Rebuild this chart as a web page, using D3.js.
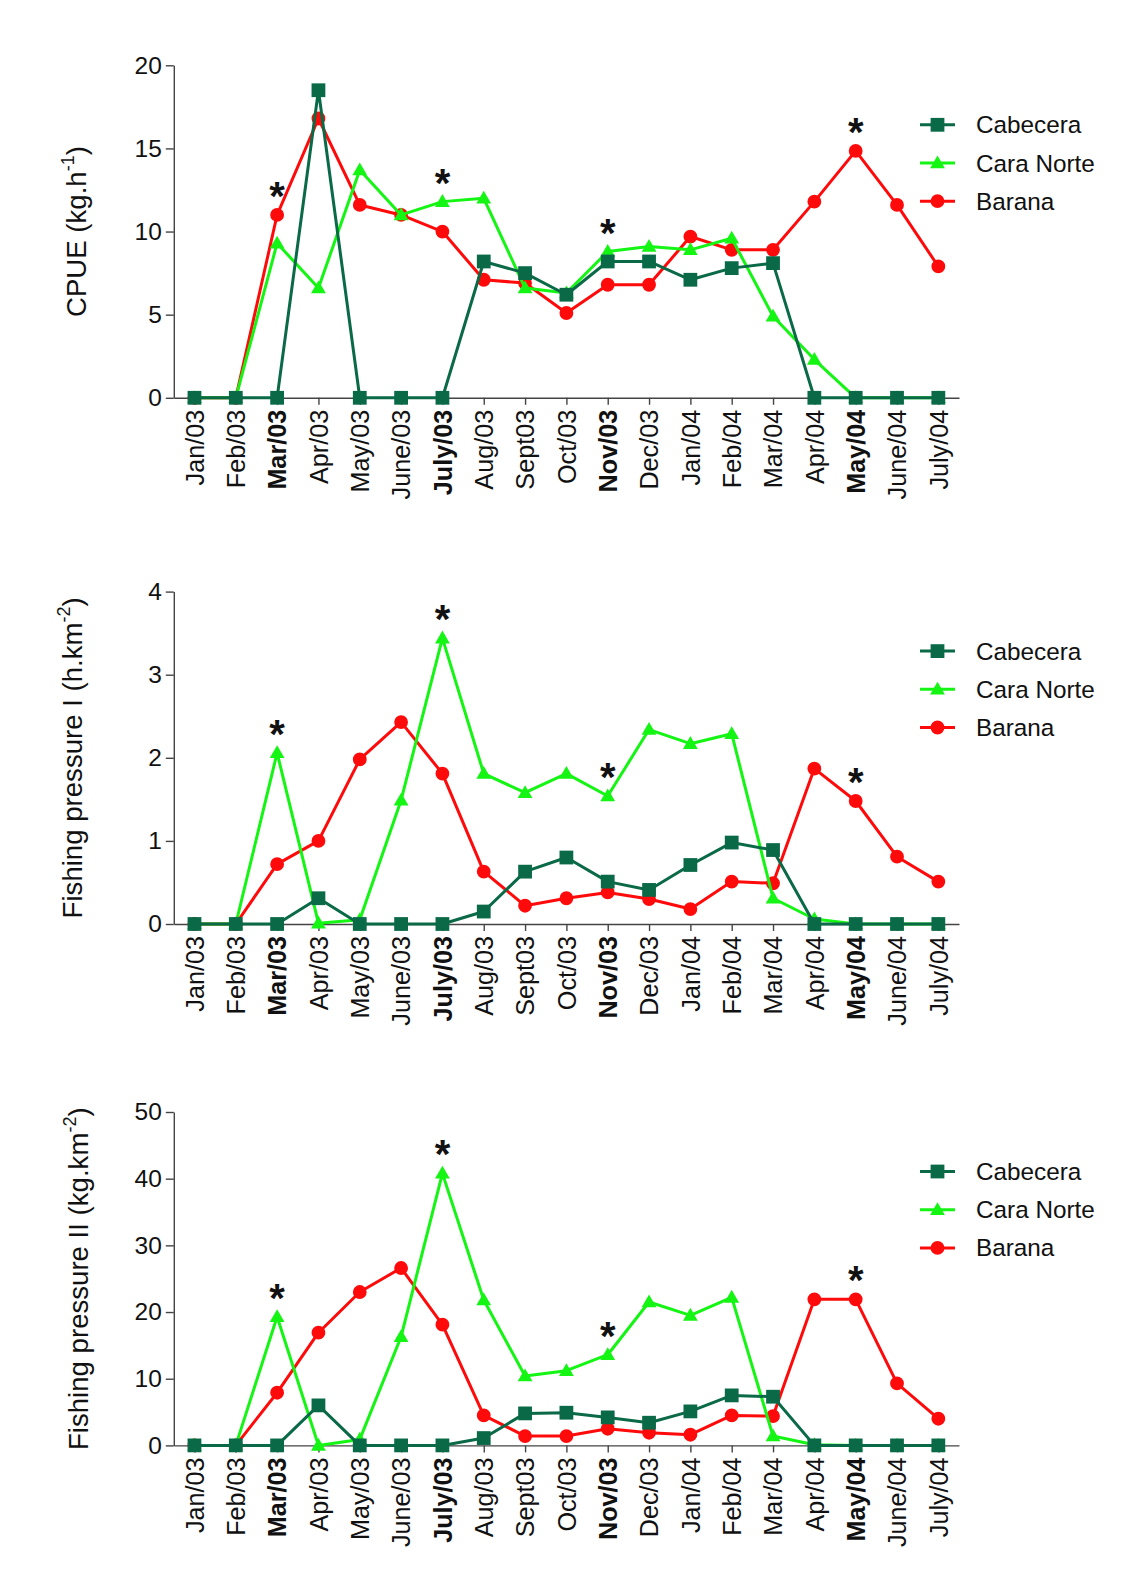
<!DOCTYPE html>
<html>
<head>
<meta charset="utf-8">
<script src="https://cdn.jsdelivr.net/npm/d3@7"></script>
<style>
  html, body { margin: 0; padding: 0; background: #ffffff; }
  svg { display: block; font-family: "Liberation Sans", Arial, sans-serif; }
</style>
</head>
<body>
<svg id="chart" width="1130" height="1575"></svg>
<script>
// ---------------- DATA ----------------
const months = ["Jan/03","Feb/03","Mar/03","Apr/03","May/03","June/03","July/03","Aug/03","Sept03","Oct/03",
                "Nov/03","Dec/03","Jan/04","Feb/04","Mar/04","Apr/04","May/04","June/04","July/04"];
const boldMonths = ["Mar/03","July/03","Nov/03","May/04"];
const starMonths = ["Mar/03","July/03","Nov/03","May/04"];
const seriesNames = ["Cabecera","Cara Norte","Barana"];

// Panel 1: CPUE (kg.h-1)
const cpueCabecera  = [0,0,0,18.5,0,0,0,8.2,7.5,6.2,8.2,8.2,7.1,7.8,8.1,0,0,0,0];
const cpueCaraNorte = [0,0,9.3,6.6,13.7,11.0,11.8,12.0,6.6,6.3,8.8,9.1,8.9,9.6,4.9,2.3,0,0,0];
const cpueBarana    = [0,0,11.0,16.8,11.6,11.0,10.0,7.1,6.9,5.1,6.8,6.8,9.7,8.9,8.9,11.8,14.85,11.6,7.9];
const cpueTicks     = [0,5,10,15,20];

// Panel 2: Fishing pressure I (h.km-2)
const fp1Cabecera  = [0,0,0,0.31,0,0,0,0.15,0.63,0.80,0.51,0.41,0.71,0.98,0.89,0,0,0,0];
const fp1CaraNorte = [0,0,2.06,0.01,0.05,1.49,3.44,1.81,1.58,1.81,1.54,2.34,2.17,2.29,0.31,0.06,0,0,0];
const fp1Barana    = [0,0,0.72,1.00,1.98,2.43,1.81,0.63,0.22,0.31,0.38,0.30,0.18,0.51,0.49,1.87,1.48,0.81,0.51];
const fp1Ticks     = [0,1,2,3,4];

// Panel 3: Fishing pressure II (kg.km-2)
const fp2Cabecera  = [0,0,0,6.0,0,0,0,1.1,4.8,4.9,4.2,3.4,5.1,7.5,7.3,0,0,0,0];
const fp2CaraNorte = [0,0,19.3,0,0.9,16.3,40.8,21.8,10.4,11.2,13.6,21.5,19.5,22.2,1.4,0.1,0,0,0];
const fp2Barana    = [0,0,7.9,16.9,23.0,26.6,18.1,4.5,1.4,1.4,2.5,1.9,1.6,4.5,4.4,21.9,21.9,9.3,4.0];
const fp2Ticks     = [0,10,20,30,40,50];

// ---------------- STYLE / LAYOUT ----------------
const colors = {"Cabecera":"#0a6a47","Cara Norte":"#14f514","Barana":"#ff0a0a"};
const symbols = {"Cabecera":d3.symbolSquare,"Cara Norte":d3.symbolTriangle,"Barana":d3.symbolCircle};
const symSize = {"Cabecera":190,"Cara Norte":95,"Barana":150};

const xLeft = 173.8, xRight = 959;

const panels = [
  {top:65.3,  bottom:397.8, max:20, ticks:cpueTicks, data:[cpueCabecera,cpueCaraNorte,cpueBarana],
   title:["CPUE (kg.h","-1",")"], titleX:86},
  {top:591.6, bottom:924.0, max:4,  ticks:fp1Ticks,  data:[fp1Cabecera,fp1CaraNorte,fp1Barana],
   title:["Fishing pressure I (h.km","-2",")"], titleX:82},
  {top:1112.0,bottom:1445.4,max:50, ticks:fp2Ticks,  data:[fp2Cabecera,fp2CaraNorte,fp2Barana],
   title:["Fishing pressure II (kg.km","-2",")"], titleX:88}
];

const svg = d3.select("#chart");
svg.append("rect").attr("width",1130).attr("height",1575).attr("fill","#ffffff");

const x = d3.scalePoint().domain(months).range([xLeft, xRight]).padding(0.5);

panels.forEach(p => {
  const g = svg.append("g");
  const y = d3.scaleLinear().domain([0, p.max]).range([p.bottom, p.top]);

  // Y axis
  const yAxis = g.append("g").attr("transform", `translate(${xLeft},0)`)
    .call(d3.axisLeft(y).tickValues(p.ticks).tickFormat(d3.format("d")).tickSize(8).tickSizeOuter(0).tickPadding(4));
  yAxis.selectAll("text").attr("font-size", 24.5).attr("fill", "#111")
    .attr("font-family", "'Liberation Sans', Arial, sans-serif");

  // X axis
  const xAxis = g.append("g").attr("transform", `translate(0,${p.bottom})`)
    .call(d3.axisBottom(x).tickSize(7).tickSizeOuter(0));
  xAxis.selectAll("text")
    .attr("transform", "rotate(-90)")
    .attr("x", -12).attr("y", 0).attr("dy", "0.35em")
    .attr("text-anchor", "end")
    .attr("font-size", 25.2).attr("fill", "#111")
    .attr("font-weight", d => boldMonths.includes(d) ? "bold" : "normal")
    .attr("font-family", "'Liberation Sans', Arial, sans-serif");

  [yAxis, xAxis].forEach(a => {
    a.selectAll("path.domain").attr("stroke", "#444").attr("stroke-width", 1.4);
    a.selectAll(".tick line").attr("stroke", "#444").attr("stroke-width", 1.4);
  });

  // Y title
  const t = g.append("text")
    .attr("transform", `translate(${p.titleX},${(p.top + p.bottom) / 2}) rotate(-90)`)
    .attr("text-anchor", "middle")
    .attr("font-size", 27.6).attr("fill", "#111");
  t.append("tspan").text(p.title[0]);
  t.append("tspan").text(p.title[1]).attr("font-size", 18).attr("dy", -12);
  t.append("tspan").text(p.title[2]).attr("dy", 12);

  // Series, drawn Barana first, Cabecera last (on top)
  const order = [2, 1, 0];
  order.forEach(i => {
    const name = seriesNames[i];
    const vals = p.data[i];
    const pts = months.map((m, k) => [x(m), y(vals[k])]);
    g.append("path")
      .attr("d", d3.line()(pts))
      .attr("fill", "none").attr("stroke", colors[name]).attr("stroke-width", 3)
      .attr("stroke-linejoin", "round");
    g.selectAll(null).data(pts).enter().append("path")
      .attr("d", d3.symbol().type(symbols[name]).size(symSize[name]))
      .attr("transform", d => `translate(${d[0]},${d[1] + (name === "Cara Norte" ? 1 : 0)})`)
      .attr("fill", colors[name]);
  });

  // Stars
  starMonths.forEach(m => {
    const k = months.indexOf(m);
    const top = d3.max(p.data, s => s[k]);
    g.append("text")
      .attr("x", x(m)).attr("y", y(top) - 27 + 22)
      .attr("text-anchor", "middle")
      .attr("font-size", 40).attr("font-weight", "bold").attr("fill", "#111")
      .text("*");
  });

  // Legend
  seriesNames.forEach((name, i) => {
    const ly = p.top + 59.5 + i * 38.2;
    const lg = g.append("g");
    lg.append("line").attr("x1", 920).attr("x2", 955).attr("y1", ly).attr("y2", ly)
      .attr("stroke", colors[name]).attr("stroke-width", 3);
    lg.append("path")
      .attr("d", d3.symbol().type(symbols[name]).size(symSize[name]))
      .attr("transform", `translate(937.5,${ly + (name === "Cara Norte" ? 1 : 0)})`)
      .attr("fill", colors[name]);
    lg.append("text").attr("x", 976).attr("y", ly).attr("dy", "0.35em")
      .attr("font-size", 24.3).attr("fill", "#111").text(name);
  });
});
</script>
</body>
</html>
